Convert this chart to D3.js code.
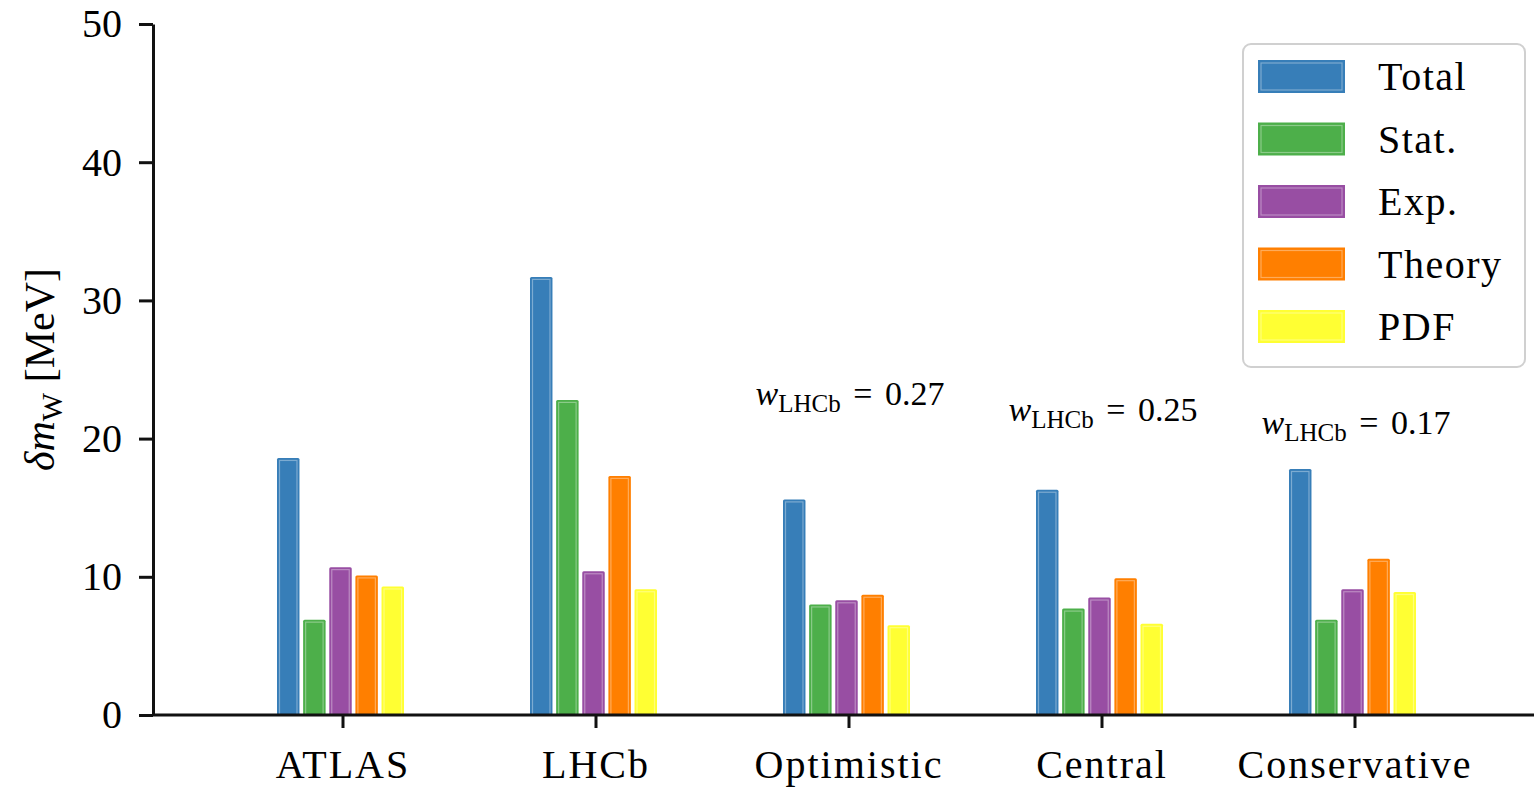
<!DOCTYPE html>
<html>
<head>
<meta charset="utf-8">
<script src="https://cdn.jsdelivr.net/npm/d3@7"></script>
<style>
  body { margin: 0; background: #fff; }
  text { font-family: "Liberation Serif", "Times New Roman", serif; fill: #000; }
</style>
</head>
<body>
<div id="container"></div>
<script>
const categories = ["ATLAS", "LHCb", "Optimistic", "Central", "Conservative"]
const series = ["Total", "Stat.", "Exp.", "Theory", "PDF"]
const colors = ["#377eb8", "#4daf4a", "#984ea3", "#ff7f00", "#ffff33"]
const total  = [18.6, 31.7, 15.6, 16.3, 17.8]
const stat   = [6.9, 22.8, 8.0, 7.7, 6.9]
const exp    = [10.7, 10.4, 8.3, 8.5, 9.1]
const theory = [10.1, 17.3, 8.7, 9.9, 11.3]
const pdf    = [9.3, 9.1, 6.5, 6.6, 8.9]
const yTicks = [0, 10, 20, 30, 40, 50]
// weight annotations: category, label, height (MeV) of baseline
const weightCats = ["Optimistic", "Central", "Conservative"]
const weightVals = ["0.27", "0.25", "0.17"]
const weightY = [22.4, 21.3, 20.3]

const seriesValues = [total, stat, exp, theory, pdf]

const width = 1534
const height = 787
const margin = {top: 24, bottom: 72, left: 153, right: 0}

const svg = d3.create("svg")
    .attr("width", width)
    .attr("height", height)

const x = d3.scaleBand()
    .domain(categories)
    .range([216.5, 1481.5])
    .padding(0)

const xSub = d3.scaleBand()
    .domain(series)
    .range([-66, 61])
    .paddingInner(0.14)

const y = d3.scaleLinear()
    .domain([0, 50])
    .range([height - margin.bottom, margin.top])

// bars
const bars = svg.append("g").attr("id", "bars")
series.forEach((s, si) => {
    const g = bars.append("g")
    const data = categories.map((c, ci) => ({cat: c, value: seriesValues[si][ci]}))
    g.selectAll("rect.bar")
        .data(data)
        .enter().append("rect")
        .attr("class", "bar")
        .attr("x", d => x(d.cat) + x.bandwidth() / 2 + xSub(s))
        .attr("y", d => y(d.value))
        .attr("width", xSub.bandwidth())
        .attr("height", d => y(0) - y(d.value))
        .attr("rx", 1.5)
        .style("fill", colors[si])
    g.selectAll("rect.inner")
        .data(data)
        .enter().append("rect")
        .attr("class", "inner")
        .attr("x", d => x(d.cat) + x.bandwidth() / 2 + xSub(s) + 2.5)
        .attr("y", d => y(d.value) + 2.5)
        .attr("width", xSub.bandwidth() - 5)
        .attr("height", d => Math.max(0, y(0) - y(d.value) - 2.5))
        .style("fill", "none")
        .style("stroke", "#fff")
        .style("stroke-opacity", 0.35)
        .style("stroke-width", 1.2)
})

// axes
const xAxis = svg.append("g")
    .attr("transform", `translate(0, ${y(0)})`)
    .call(d3.axisBottom(x).tickSize(13).tickPadding(12).tickSizeOuter(0))
xAxis.select(".domain").remove()
xAxis.append("line")
    .attr("x1", margin.left).attr("x2", width)
    .attr("stroke", "#111").attr("stroke-width", 3)
xAxis.selectAll(".tick line").attr("stroke", "#111").attr("stroke-width", 3)
xAxis.selectAll(".tick text")
    .style("font-family", "Liberation Serif, serif")
    .style("font-size", "40px")
    .style("letter-spacing", "2px")
    .attr("fill", "#000")
    .attr("dy", "0.95em")

const yAxis = svg.append("g")
    .attr("transform", `translate(${margin.left}, 0)`)
    .call(d3.axisLeft(y).tickValues(yTicks).tickSize(14).tickPadding(17).tickSizeOuter(0))
yAxis.select(".domain").attr("stroke", "#111").attr("stroke-width", 3)
yAxis.selectAll(".tick line").attr("stroke", "#111").attr("stroke-width", 3)
yAxis.selectAll(".tick text")
    .style("font-family", "Liberation Serif, serif")
    .style("font-size", "40px")
    .attr("fill", "#000")

// y label
const ylab = svg.append("text")
    .attr("transform", `translate(54, ${(y(0) + y(50)) / 2})` + " rotate(-90)")
    .attr("text-anchor", "middle")
    .style("font-size", "42px")
ylab.append("tspan").text("δ").style("font-style", "italic")
ylab.append("tspan").text("m").style("font-style", "italic")
ylab.append("tspan").text("W").attr("dy", 8).style("font-size", "30px")
ylab.append("tspan").text(" [MeV]").attr("dy", -8)

// weight annotations
weightCats.forEach((c, i) => {
    const t = svg.append("text")
        .attr("x", x(c) + x.bandwidth() / 2 + 1)
        .attr("y", y(weightY[i]))
        .attr("text-anchor", "middle")
        .style("font-size", "34px")
    t.append("tspan").text("w").style("font-style", "italic")
    t.append("tspan").text("LHCb").attr("dy", 7).style("font-size", "25px")
    t.append("tspan").text(" = " + weightVals[i]).attr("dy", -7)
        .style("word-spacing", "4px")
})

// legend
const legend = svg.append("g")
    .attr("id", "legend")
    .attr("transform", "translate(1243, 44)")
legend.append("rect")
    .attr("width", 282).attr("height", 323)
    .attr("rx", 8)
    .style("fill", "#fff")
    .style("stroke", "#d0d0d0")
    .style("stroke-width", 2)
const ly = d3.scalePoint().domain(series).range([32, 282])
series.forEach((s, i) => {
    legend.append("rect")
        .attr("x", 15).attr("y", ly(s) - 16)
        .attr("width", 87).attr("height", 33)
        .style("fill", colors[i])
    legend.append("rect")
        .attr("x", 18).attr("y", ly(s) - 13)
        .attr("width", 81).attr("height", 27)
        .style("fill", "none")
        .style("stroke", "#fff")
        .style("stroke-opacity", 0.35)
        .style("stroke-width", 1.2)
    legend.append("text")
        .attr("x", 135).attr("y", ly(s))
        .attr("dy", "0.35em")
        .style("font-size", "40px")
        .style("letter-spacing", "1.5px")
        .text(s)
})

document.querySelector("#container").appendChild(svg.node())
</script>
</body>
</html>
